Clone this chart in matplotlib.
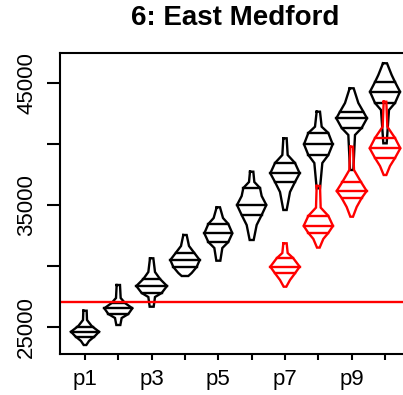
import numpy as np
import matplotlib
matplotlib.use("Agg")
import matplotlib.pyplot as plt

plt.rcParams['font.family'] = ['Liberation Sans', 'DejaVu Sans']

title = "6: East Medford"
positions = [1, 2, 3, 4, 5, 6, 7, 8, 9, 10]
tick_labels = ["p1", "", "p3", "", "p5", "", "p7", "", "p9", ""]
reference_level = 27000

# Black distributions: profile heights (value) and half-widths (x units)
black_y = [
    [26311, 25549, 25057, 24590, 24238, 23828, 23500],
    [28418, 27353, 26943, 26508, 26041, 25713, 25139],
    [30607, 29484, 28910, 28336, 27762, 27434, 26639],
    [32517, 31615, 31041, 30467, 29894, 29402, 29156],
    [34787, 33910, 33418, 32656, 31943, 31451, 30410],
    [37705, 36861, 36369, 35713, 34975, 34156, 33336, 32107],
    [40443, 39074, 38418, 37574, 36861, 36041, 34566],
    [42623, 41394, 40877, 39951, 39074, 38418, 36345],
    [44542, 43336, 42623, 42082, 41287, 40713, 37844],
    [46591, 45631, 45058, 44263, 43336, 42762, 40033],
]
black_w = [
    [0.05, 0.06, 0.20, 0.42, 0.30, 0.12, 0.04],
    [0.05, 0.07, 0.20, 0.42, 0.30, 0.10, 0.06],
    [0.05, 0.10, 0.25, 0.46, 0.30, 0.10, 0.06],
    [0.05, 0.12, 0.28, 0.44, 0.35, 0.20, 0.10],
    [0.05, 0.14, 0.30, 0.42, 0.30, 0.12, 0.06],
    [0.05, 0.08, 0.25, 0.30, 0.44, 0.30, 0.15, 0.06],
    [0.05, 0.08, 0.30, 0.44, 0.30, 0.15, 0.05],
    [0.05, 0.10, 0.30, 0.43, 0.30, 0.12, 0.05],
    [0.06, 0.20, 0.35, 0.46, 0.30, 0.10, 0.05],
    [0.06, 0.20, 0.30, 0.45, 0.30, 0.12, 0.05],
]
black_q_upper = [25000, 26943, 28910, 31041, 33418, 36369, 38418, 40877, 42623, 45058]
black_q_mid = [24590, 26508, 28336, 30467, 32656, 34975, 37574, 39951, 42082, 44263]
black_q_lower = [24156, 26041, 27762, 29894, 31943, 34156, 36861, 39074, 41287, 43336]

# Red distributions (positions 7-10)
red_positions = [7, 8, 9, 10]
red_y = [
    [31836, 31041, 30607, 29918, 29377, 28828, 28279],
    [36541, 34762, 34082, 33262, 32689, 32197, 31484],
    [39754, 37844, 36861, 36123, 35549, 34812, 34016],
    [43443, 41394, 40467, 39623, 38828, 38172, 37434],
]
red_w = [
    [0.05, 0.08, 0.25, 0.44, 0.30, 0.15, 0.04],
    [0.05, 0.07, 0.30, 0.44, 0.30, 0.15, 0.04],
    [0.04, 0.07, 0.28, 0.45, 0.30, 0.15, 0.04],
    [0.04, 0.07, 0.30, 0.46, 0.30, 0.15, 0.04],
]
red_q_upper = [30607, 34082, 36861, 40467]
red_q_mid = [29918, 33262, 36123, 39623]
red_q_lower = [29377, 32689, 35549, 38828]

W, H = 403, 395
fig = plt.figure(figsize=(W / 100, H / 100), dpi=100)
ax = fig.add_axes([60 / W, 1 - 354 / H, 350 / W, 301 / H])
ax.set_xlim(0.25, 10.75)
ax.set_ylim(22762, 47434)

LW = 1.7


def draw_shape(x, ys, ws, qs, color):
    ys = np.asarray(ys, float)
    ws = np.asarray(ws, float)
    xs = np.concatenate([x - ws, (x + ws)[::-1], [x - ws[0]]])
    yy = np.concatenate([ys, ys[::-1], [ys[0]]])
    ax.plot(xs, yy, color=color, lw=LW, solid_joinstyle='miter')
    order = np.argsort(ys)
    for q in qs:
        hw = np.interp(q, ys[order], ws[order])
        ax.plot([x - hw, x + hw], [q, q], color=color, lw=LW)


for i, x in enumerate(positions):
    draw_shape(x, black_y[i], black_w[i],
               [black_q_upper[i], black_q_mid[i], black_q_lower[i]], 'black')

ax.axhline(reference_level, color='#ff0000', lw=LW)

for i, x in enumerate(red_positions):
    draw_shape(x, red_y[i], red_w[i],
               [red_q_upper[i], red_q_mid[i], red_q_lower[i]], '#ff0000')

for s in ax.spines.values():
    s.set_linewidth(1.5)

ax.set_xticks(positions)
ax.set_xticklabels(tick_labels, fontsize=16)
ax.set_yticks([25000, 30000, 35000, 40000, 45000])
ax.set_yticklabels(['25000', '', '35000', '', '45000'], fontsize=16,
                   rotation=90, va='center')
ax.tick_params(axis='y', length=9.4, width=1.5, pad=7)
ax.tick_params(axis='x', length=4.5, width=1.5, pad=6)

fig.text(235 / W, 1 - 18 / H, title, fontsize=20, fontweight='bold',
         ha='center', va='center')

fig.savefig('out.png', dpi=100)
